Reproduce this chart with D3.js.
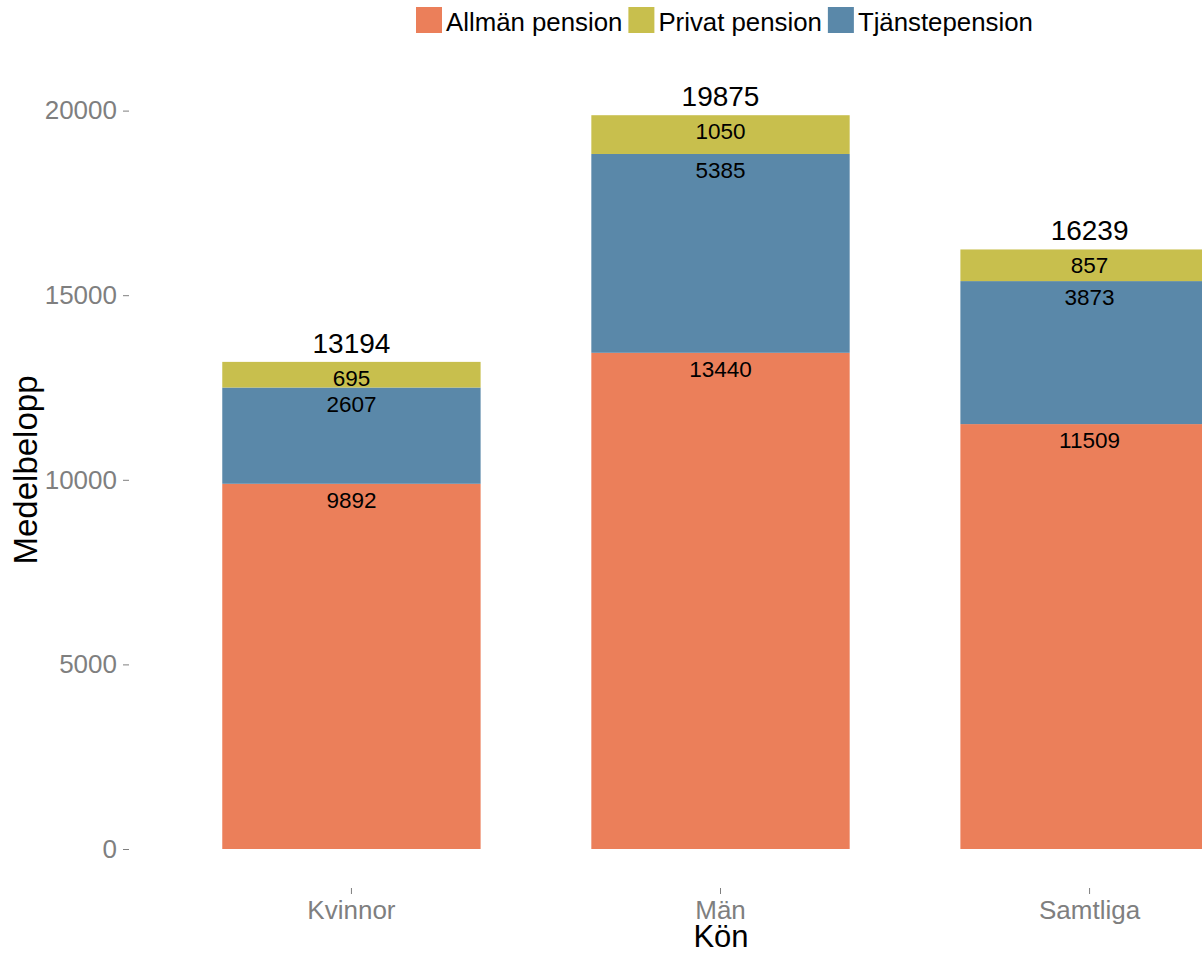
<!DOCTYPE html>
<html>
<head>
<meta charset="utf-8">
<script src="https://cdn.jsdelivr.net/npm/d3@7"></script>
<style>
  body { margin: 0; background: #fff; }
  svg { display: block; font-family: "Liberation Sans", Arial, sans-serif; }
</style>
</head>
<body>
<svg id="chart" width="1202" height="954"></svg>
<script>
// data
const categories = ["Kvinnor", "Män", "Samtliga"];
const allman = [9892, 13440, 11509];
const tjanste = [2607, 5385, 3873];
const privat = [695, 1050, 857];
const yTicks = [0, 5000, 10000, 15000, 20000];

const seriesNames = ["Allmän pension", "Privat pension", "Tjänstepension"];
const colors = { "Allmän pension": "#eb7f5a", "Privat pension": "#c8bf4d", "Tjänstepension": "#5a88a9" };

// table for d3.stack, bottom to top: Allmän, Tjänste, Privat
const rows = categories.map((c, i) => ({
  kon: c,
  "Allmän pension": allman[i],
  "Tjänstepension": tjanste[i],
  "Privat pension": privat[i]
}));
const stackKeys = ["Allmän pension", "Tjänstepension", "Privat pension"];
const stacked = d3.stack().keys(stackKeys)(rows);

const svg = d3.select("#chart");

// panel runs past the right edge, like the original crop
const x = d3.scaleBand().domain(categories).range([130, 1311]).paddingInner(0.3).paddingOuter(0.25);
const y = d3.scaleLinear().domain([0, 20000]).range([849, 110.6]);

const grey = "#7f7f7f";

// y axis: ticks + labels only
const yAxis = svg.append("g").attr("transform", "translate(129,0)")
  .call(d3.axisLeft(y).tickValues(yTicks).tickSize(6).tickPadding(6).tickFormat(d3.format("d")));
yAxis.select(".domain").remove();
yAxis.selectAll("line").attr("stroke", grey);
yAxis.selectAll("text").attr("fill", grey).style("font-size", "26px").style("font-family", "Liberation Sans, Arial, sans-serif");

// x axis
const xAxis = svg.append("g").attr("transform", "translate(0,888)")
  .call(d3.axisBottom(x).tickSize(6).tickPadding(6));
xAxis.select(".domain").remove();
xAxis.selectAll("line").attr("stroke", grey);
xAxis.selectAll("text").attr("fill", grey).attr("dy", null).attr("y", 31)
  .style("font-size", "26px").style("font-family", "Liberation Sans, Arial, sans-serif");

// bars
const layers = svg.append("g").selectAll("g").data(stacked).join("g")
  .attr("fill", d => colors[d.key]);
layers.selectAll("rect").data(d => d).join("rect")
  .attr("x", d => x(d.data.kon))
  .attr("width", x.bandwidth())
  .attr("y", d => y(d[1]))
  .attr("height", d => y(d[0]) - y(d[1]));

// segment labels, hanging just under each segment top
const segLabels = svg.append("g").attr("text-anchor", "middle").style("font-size", "22.5px").attr("fill", "#000");
stacked.forEach(layer => {
  segLabels.selectAll(null).data(layer).join("text")
    .attr("x", d => x(d.data.kon) + x.bandwidth() / 2)
    .attr("y", d => y(d[1]) + 24)
    .text(d => d.data[layer.key]);
});

// totals above bars
const topLayer = stacked[stacked.length - 1];
svg.append("g").attr("text-anchor", "middle").style("font-size", "28px").attr("fill", "#000")
  .selectAll("text").data(topLayer).join("text")
  .attr("x", d => x(d.data.kon) + x.bandwidth() / 2)
  .attr("y", d => y(d[1]) - 9)
  .text(d => d[1]);

// axis titles
svg.append("text").attr("x", 721).attr("y", 947).attr("text-anchor", "middle")
  .style("font-size", "31px").text("Kön");
svg.append("text").attr("transform", "translate(37,470) rotate(-90)").attr("text-anchor", "middle")
  .style("font-size", "33px").text("Medelbelopp");

// legend at top
const legend = svg.append("g");
let lx = 416;
seriesNames.forEach(name => {
  legend.append("rect").attr("x", lx).attr("y", 7).attr("width", 26).attr("height", 26).attr("fill", colors[name]);
  const t = legend.append("text").attr("x", lx + 30).attr("y", 31).style("font-size", "25.8px").text(name);
  lx += 30 + t.node().getComputedTextLength() + 6;
});
</script>
</body>
</html>
